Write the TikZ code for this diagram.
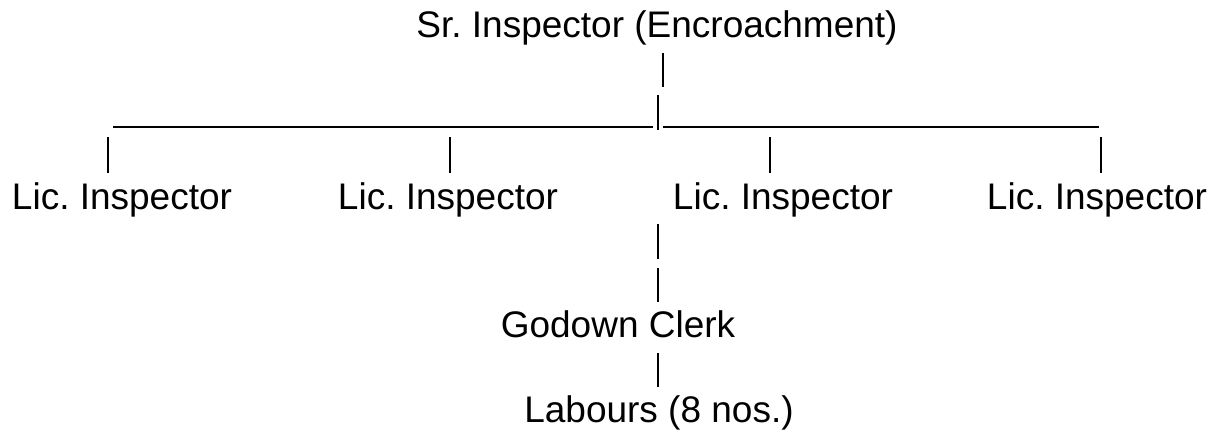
\documentclass[tikz,border=0pt]{standalone}
\usepackage{fontspec}
\setmainfont{Liberation Sans}
\frenchspacing
\begin{document}
\begin{tikzpicture}[x=0.5pt, y=-0.5pt,
    lbl/.style={anchor=base, inner sep=0pt, font=\fontsize{18.5}{22}\selectfont},
    bar/.style={line width=1.1pt},
    rule/.style={line width=0.7pt}]
            \useasboundingbox (0,0) rectangle (1217,436);

            % Labels
            \node[lbl] (sr) at (657,37) {Sr. Inspector (Encroachment)};
            \node[lbl] (lic1) at (122,209) {Lic. Inspector};
            \node[lbl] (lic2) at (448,209) {Lic. Inspector};
            \node[lbl] (lic3) at (783,209) {Lic. Inspector};
            \node[lbl] (lic4) at (1097,209) {Lic. Inspector};
            \node[lbl] (clerk) at (618,337) {Godown Clerk};
            \node[lbl] (lab) at (659,422) {Labours (8 nos.)};

            % Ends of the bars
            \coordinate (srA) at (663,53);  \coordinate (srB) at (663,87);
            \coordinate (midA) at (658,95); \coordinate (midB) at (658,130);
            \coordinate (ruleL) at (113,127); \coordinate (ruleLm) at (653,127);
            \coordinate (ruleRm) at (663,127); \coordinate (ruleR) at (1099,127);
            \coordinate (licA) at (0,137); \coordinate (licB) at (0,173);
            \coordinate (clkA) at (658,224); \coordinate (clkB) at (658,259);
            \coordinate (clkC) at (658,268); \coordinate (clkD) at (658,302);
            \coordinate (labA) at (658,353); \coordinate (labB) at (658,387);

            % Bars
            \draw[bar] (srA) -- (srB);
            \draw[bar] (midA) -- (midB);
            \draw[rule] (ruleL) -- (ruleLm);
            \draw[rule] (ruleRm) -- (ruleR);
            \foreach \x in {108,450,770,1101}
                \draw[bar] (licA -| \x,0) -- (licB -| \x,0);
            \draw[bar] (clkA) -- (clkB);
            \draw[bar] (clkC) -- (clkD);
            \draw[bar] (labA) -- (labB);
        \end{tikzpicture}
\end{document}
